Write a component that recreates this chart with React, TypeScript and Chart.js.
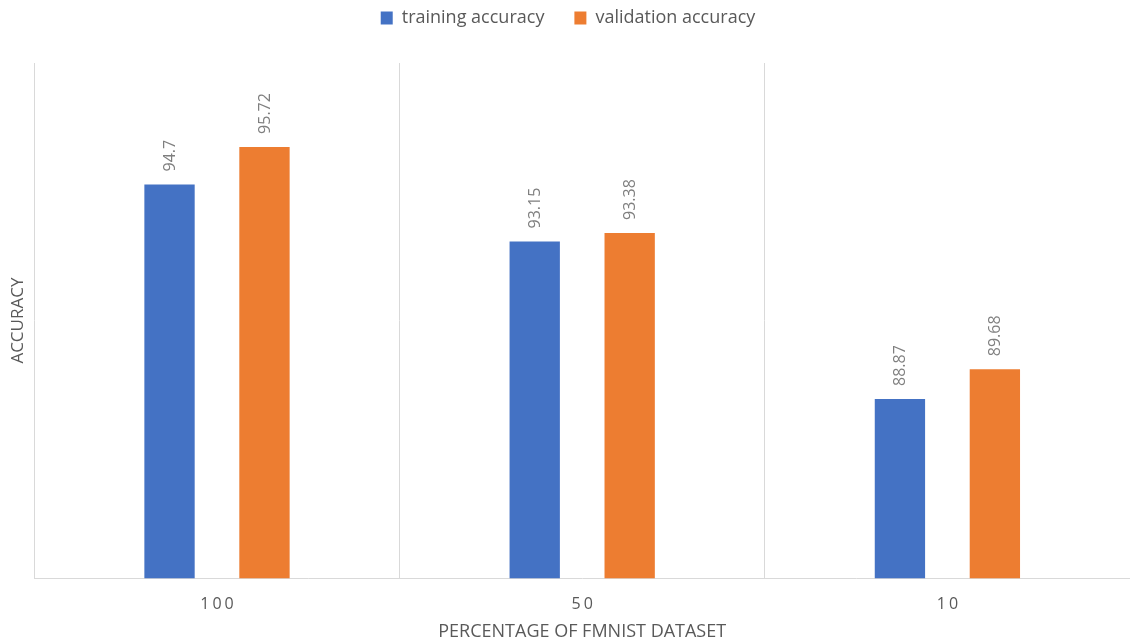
import React, { useEffect, useRef } from "react";
import { Chart, registerables } from "chart.js";

Chart.register(...registerables);

const categories = ["100", "50", "10"];
const trainingAccuracy = [94.7, 93.15, 88.87];
const validationAccuracy = [95.72, 93.38, 89.68];
const seriesNames = ["training accuracy", "validation accuracy"];

const FONT = "'Open Sans', 'Noto Sans', sans-serif";

const valueLabels = {
  id: "valueLabels",
  afterDatasetsDraw(chart: any) {
    const ctx = chart.ctx;
    ctx.save();
    ctx.fillStyle = "#7f7f7f";
    ctx.font = `16px ${FONT}`;
    ctx.textAlign = "left";
    ctx.textBaseline = "middle";
    chart.data.datasets.forEach((ds: any, di: number) => {
      const meta = chart.getDatasetMeta(di);
      meta.data.forEach((el: any, i: number) => {
        ctx.save();
        ctx.translate(el.x + 1, el.y - 13);
        ctx.rotate(-Math.PI / 2);
        ctx.fillText(String(ds.data[i]), 0, 0);
        ctx.restore();
      });
    });
    ctx.restore();
  },
};

const legendSpacer = {
  id: "legendSpacer",
  beforeLayout(chart: any) {
    const lg = chart.legend;
    if (lg && !lg._spacerPatched) {
      const orig = lg.fit.bind(lg);
      lg.fit = function () {
        orig();
        this.height += 26;
      };
      lg._spacerPatched = true;
    }
  },
};

const tickSpacing = {
  id: "tickSpacing",
  beforeDraw(chart: any) {
    const sx = chart.scales.x;
    if (sx && !sx._spacingPatched) {
      const orig = sx.drawLabels.bind(sx);
      sx.drawLabels = function (area: any) {
        const ctx = chart.ctx;
        const prev = ctx.letterSpacing;
        ctx.save();
        ctx.letterSpacing = "3px";
        ctx.translate(1.5, 0);
        orig(area);
        ctx.restore();
        ctx.letterSpacing = prev;
      };
      sx._spacingPatched = true;
    }
  },
};

export default function App() {
  const ref = useRef<HTMLCanvasElement>(null);
  useEffect(() => {
    const chart = new Chart(ref.current!, {
      type: "bar",
      data: {
        labels: categories,
        datasets: [
          {
            label: seriesNames[0],
            data: trainingAccuracy,
            backgroundColor: "#4472C4",
            categoryPercentage: 0.52,
            barPercentage: 0.53,
          },
          {
            label: seriesNames[1],
            data: validationAccuracy,
            backgroundColor: "#ED7D31",
            categoryPercentage: 0.52,
            barPercentage: 0.53,
          },
        ],
      },
      options: {
        animation: false,
        responsive: false,
        maintainAspectRatio: false,
        layout: { padding: { left: 6, right: 0, top: -21, bottom: 0 } },
        plugins: {
          legend: {
            position: "top",
            labels: {
              boxWidth: 12,
              boxHeight: 13,
              padding: 30,
              color: "#595959",
              font: { family: FONT, size: 18 },
            },
          },
          tooltip: { enabled: false },
        },
        scales: {
          x: {
            grid: { color: "#d9d9d9", drawTicks: false, offset: true },
            border: { color: "#d9d9d9" },
            ticks: {
              color: "#595959",
              padding: 17,
              font: { family: FONT, size: 16 },
            },
            title: {
              display: true,
              text: "PERCENTAGE OF FMNIST DATASET",
              color: "#595959",
              font: { family: FONT, size: 18 },
              padding: { top: -10, bottom: 0 },
            },
          },
          y: {
            min: 84,
            max: 98,
            grid: { display: false, drawTicks: false },
            border: { display: false },
            ticks: { display: false },
            title: {
              display: true,
              text: "ACCURACY",
              color: "#595959",
              font: { family: FONT, size: 17 },
              padding: { top: 2, bottom: 6 },
            },
          },
        },
      },
      plugins: [valueLabels, legendSpacer, tickSpacing],
    });
    return () => chart.destroy();
  }, []);
  return (
    <div style={{ position: "fixed", left: 0, top: 0, width: 1130, height: 643, background: "#fff" }}>
      <canvas ref={ref} width={1130} height={643} />
    </div>
  );
}
